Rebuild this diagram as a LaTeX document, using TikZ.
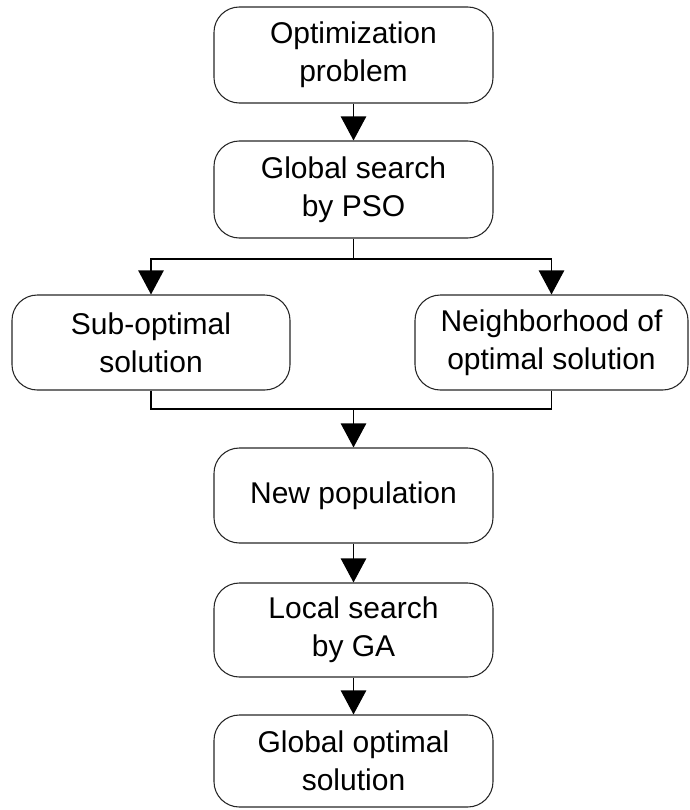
\documentclass[tikz,border=0pt]{standalone}
\usepackage{fontspec}
\setmainfont{Liberation Sans}
\usetikzlibrary{arrows.meta}

\tikzset{
  stage/.style={draw=black!85,line width=0.8pt,rounded corners=19pt,align=center,
    inner sep=0pt,font=\fontsize{22.5}{28.5}\selectfont},
  flow/.style={line width=1pt,-{Triangle[length=18pt,width=19pt]}},
  wire/.style={line width=1pt}
}

\begin{document}
\begin{tikzpicture}[x=0.75pt,y=-0.75pt]
    \useasboundingbox (0,0) rectangle (689,810);

    \node[stage,minimum width=279*0.75pt,minimum height=96*0.75pt] (opt) at (353.5,55) {Optimization\\problem};
    \node[stage,minimum width=279*0.75pt,minimum height=97*0.75pt] (pso) at (353.5,189.5) {Global search\\by PSO};
    \node[stage,minimum width=278*0.75pt,minimum height=95*0.75pt] (sub) at (151,342.5) {Sub-optimal\\solution};
    \node[stage,minimum width=273*0.75pt,minimum height=95*0.75pt] (nbh) at (551.5,342.5) {Neighborhood of\\optimal solution};
    \node[stage,minimum width=279*0.75pt,minimum height=95*0.75pt] (newpop) at (353.5,495.5) {New population};
    \node[stage,minimum width=279*0.75pt,minimum height=94*0.75pt] (ga) at (353.5,630) {Local search\\by GA};
    \node[stage,minimum width=279*0.75pt,minimum height=92*0.75pt] (best) at (353.5,761) {Global optimal\\solution};

    \coordinate (split) at (353.5,259);
    \coordinate (merge) at (353.5,409);

    \draw[flow] (opt) -- (pso);
    \draw[wire] (pso) -- (split);
    \draw[flow] (split) -| (sub);
    \draw[flow] (split) -| (nbh);
    \draw[wire] (sub) |- (merge);
    \draw[wire] (nbh) |- (merge);
    \draw[flow] (merge) -- (newpop);
    \draw[flow] (newpop) -- (ga);
    \draw[flow] (ga) -- (best);
\end{tikzpicture}
\end{document}
